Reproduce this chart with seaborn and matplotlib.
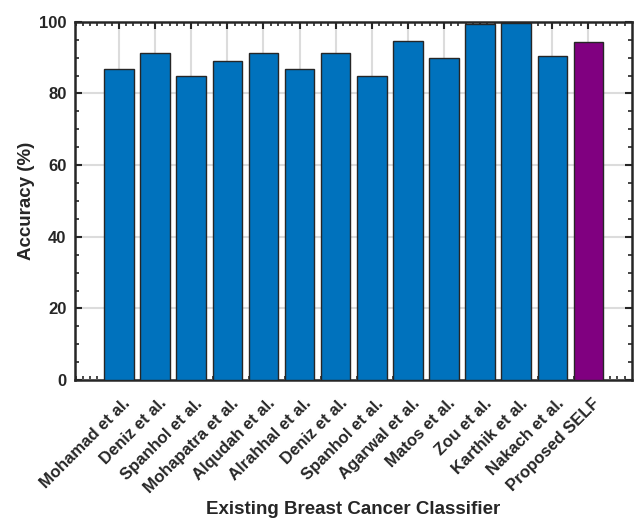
import numpy as np
import pandas as pd
import seaborn as sns
import matplotlib.pyplot as plt
from matplotlib.ticker import MultipleLocator
from matplotlib.transforms import ScaledTranslation

classifiers = ["Mohamad et al.", "Deniz et al.", "Spanhol et al.", "Mohapatra et al.",
               "Alqudah et al.", "Alrahhal et al.", "Deniz et al.", "Spanhol et al.",
               "Agarwal et al.", "Matos et al.", "Zou et al.", "Karthik et al.",
               "Nakach et al.", "Proposed SELF"]
accuracy = [86.8, 91.3, 85.0, 89.0, 91.2, 86.8, 91.3, 85.0, 94.7, 90.0, 99.5, 99.6, 90.4, 94.4]
bar_colors = ["#0072BD"] * 13 + ["#800080"]

sns.set_theme(style="white")
plt.rcParams["font.family"] = ["Liberation Sans", "DejaVu Sans"]
plt.rcParams["font.weight"] = "bold"

df = pd.DataFrame({"pos": np.arange(len(classifiers)), "acc": accuracy})

fig = plt.figure(figsize=(6.35, 5.2), dpi=100)
ax = fig.add_axes([0.118, 0.269, 0.877, 0.689])

sns.barplot(data=df, x="pos", y="acc", hue="pos", palette=bar_colors, legend=False,
            width=0.82, edgecolor="#262626", linewidth=1.0, saturation=1, ax=ax, zorder=3)

ax.set_xlim(-1.22, 14.2)
ax.set_ylim(0, 100)
ax.set_xticks(np.arange(len(classifiers)))
ax.set_xticklabels(classifiers, rotation=45, ha="right", va="center",
                   rotation_mode="anchor", fontsize=12, fontweight="bold")
ax.set_yticks([0, 20, 40, 60, 80, 100])
ax.yaxis.set_minor_locator(MultipleLocator(5))
ax.set_xticks(np.arange(-1.2, 14.2, 0.2), minor=True)
for lab in ax.get_yticklabels():
    lab.set_fontsize(12)
    lab.set_fontweight("bold")

ax.grid(True, which="major", color="#dcdcdc", linewidth=1.5, zorder=0)
ax.set_axisbelow(True)
ax.tick_params(which="major", direction="in", length=5, width=1.5, top=True, right=True,
               bottom=True, left=True, pad=6, colors="#262626")
ax.tick_params(which="minor", direction="in", length=3, width=1.2, top=True, right=True,
               bottom=True, left=True, colors="#262626")
ax.tick_params(axis="x", which="major", pad=10)
for s in ax.spines.values():
    s.set_visible(True)
    s.set_color("#262626")
    s.set_linewidth(1.8)

# nudge rotated category labels so their ends sit just right of each tick
shift = ScaledTranslation(0.09, -0.07, fig.dpi_scale_trans)
for lab in ax.get_xticklabels():
    lab.set_transform(lab.get_transform() + shift)

ax.set_xlabel("Existing Breast Cancer Classifier", fontsize=13.5, fontweight="bold",
              color="#262626", labelpad=4)
ax.set_ylabel("Accuracy (%)", fontsize=13.5, fontweight="bold", color="#262626", labelpad=3)

fig.savefig("out.png", dpi=100)
